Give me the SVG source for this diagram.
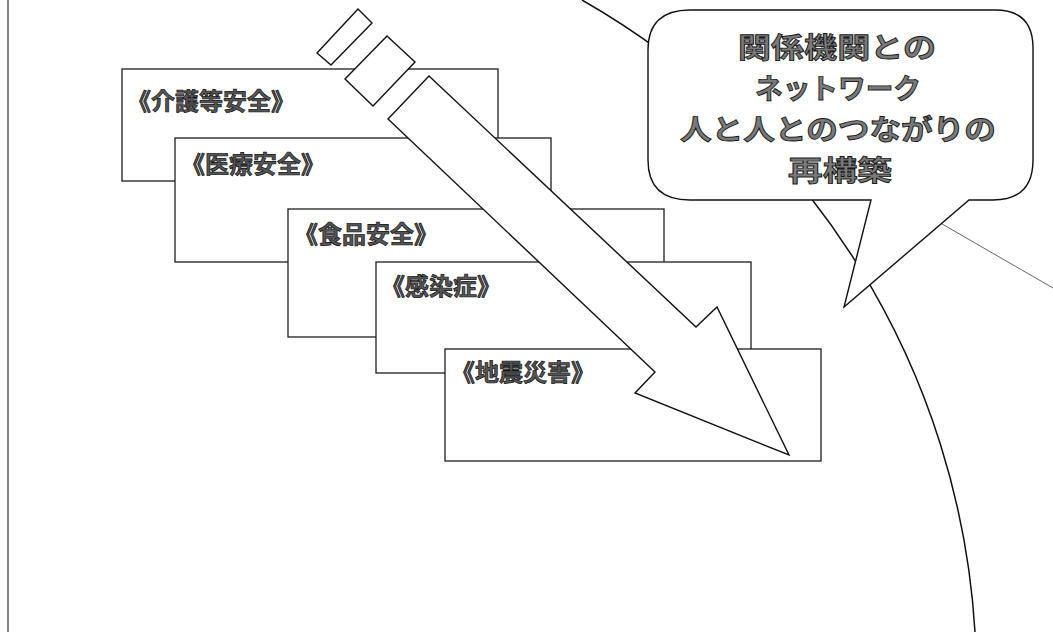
<svg xmlns="http://www.w3.org/2000/svg" width="1053" height="632" viewBox="0 0 1053 632">
<style>
.box{fill:#fff;stroke:#1e1e1e;stroke-width:1.3}
.lbl{font-family:"Noto Sans CJK JP","Noto Sans",sans-serif;font-weight:700;font-size:24px;fill:#555;stroke:#111;stroke-width:0.7}
.co{font-family:"Noto Sans CJK JP","Noto Sans",sans-serif;font-weight:700;font-size:28px;fill:#7a7a7a;stroke:#1a1a1a;stroke-width:0.9}
.ln{fill:none;stroke:#111;stroke-width:1.5}
.sh{fill:#fff;stroke:#111;stroke-width:1.4;stroke-linejoin:miter}
</style>
<rect width="1053" height="632" fill="#fff"/>
<g id="background">
<line x1="8" y1="0" x2="8" y2="632" stroke="#333" stroke-width="1.2"/>
<path class="ln" d="M 582 0 A 781 781 0 0 1 975 632"/>
<line x1="930" y1="217" x2="1053" y2="288" stroke="#555" stroke-width="0.9"/>
</g>
<g id="callout">
<path class="sh" d="M 690 10 H 995 Q 1033 10 1033 48 V 160 Q 1033 200 993 200 H 969 L 844 307 L 871 200 H 690 Q 648 200 648 160 V 50 Q 648 10 690 10 Z"/>
<text class="co" x="738" y="58" textLength="198" lengthAdjust="spacingAndGlyphs">関係機関との</text>
<text class="co" x="755" y="99" textLength="166" lengthAdjust="spacingAndGlyphs">ネットワーク</text>
<text class="co" x="680" y="140" textLength="316" lengthAdjust="spacingAndGlyphs">人と人とのつながりの</text>
<text class="co" x="788" y="181" textLength="104" lengthAdjust="spacingAndGlyphs">再構築</text>
</g>
<g id="box-kaigo">
<rect class="box" x="122" y="69" width="376" height="112"/>
<text class="lbl" x="127" y="110">《介護等安全》</text>
</g>
<g id="box-iryo">
<rect class="box" x="175" y="138" width="376" height="124"/>
<text class="lbl" x="181" y="173">《医療安全》</text>
</g>
<g id="box-shokuhin">
<rect class="box" x="288" y="209" width="376" height="128"/>
<text class="lbl" x="294" y="243">《食品安全》</text>
</g>
<g id="box-kansen">
<rect class="box" x="376" y="262" width="375" height="111"/>
<text class="lbl" x="381" y="295">《感染症》</text>
</g>
<g id="box-jishin">
<rect class="box" x="445" y="349" width="376" height="112"/>
<text class="lbl" x="451" y="381">《地震災害》</text>
</g>
<g id="connectors">
<polygon class="sh" points="358,9 372,23 331,65 317,53"/>
<polygon class="sh" points="387,36 415,62 373,106 345,79"/>
<polygon class="sh" points="429,76 696,327 717,307 789,455 635,393 655,372 388,119"/>
</g>
</svg>
